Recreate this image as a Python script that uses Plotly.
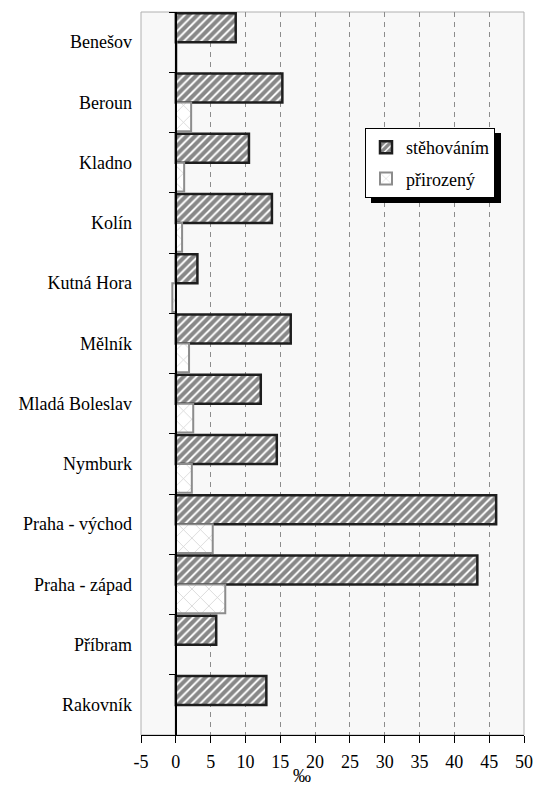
import plotly.graph_objects as go

districts = ["Benešov", "Beroun", "Kladno", "Kolín", "Kutná Hora", "Mělník",
             "Mladá Boleslav", "Nymburk", "Praha - východ", "Praha - západ",
             "Příbram", "Rakovník"]
migration = [8.6, 15.3, 10.5, 13.8, 3.1, 16.5, 12.2, 14.5, 46.0, 43.3, 5.8, 13.0]
natural = [0.1, 2.2, 1.2, 0.9, -0.5, 1.9, 2.5, 2.3, 5.3, 7.1, 0.0, 0.0]
x_ticks = [-5, 0, 5, 10, 15, 20, 25, 30, 35, 40, 45, 50]

FONT = "Liberation Serif, Times New Roman, DejaVu Serif, serif"

fig = go.Figure()
fig.add_trace(go.Bar(
    name="stěhováním", y=districts, x=migration, orientation="h",
    legendgroup="a",
    marker=dict(color="white",
                line=dict(color="#1e1e1e", width=2.5),
                pattern=dict(shape="/", fgcolor="#111111", bgcolor="white",
                             size=6, solidity=0.68, fillmode="overlay")),
))
fig.add_trace(go.Bar(
    name="přirozený", y=districts, x=natural, orientation="h",
    legendgroup="b",
    marker=dict(color="white",
                line=dict(color="#8c8c8c", width=2),
                pattern=dict(shape="x", fgcolor="#a0a0a0", bgcolor="white",
                             size=12, solidity=0.12, fillmode="overlay")),
))
# invisible trace that carries the category axis drawn at x = 0
fig.add_trace(go.Scatter(
    y=districts, x=[0] * len(districts), yaxis="y2", mode="markers",
    marker=dict(opacity=0), showlegend=False, hoverinfo="skip",
))

fig.update_layout(
    width=536, height=789,
    margin=dict(l=141, r=12, t=12, b=54, autoexpand=False),
    paper_bgcolor="white", plot_bgcolor="#f8f8f8",
    font=dict(family=FONT, size=18, color="black"),
    barmode="group", bargap=0.04, bargroupgap=0.0,
    xaxis=dict(range=[-5, 50], tickvals=x_ticks, ticktext=[str(v) for v in x_ticks],
               showgrid=True, gridcolor="#8c8c8c", griddash="5px,5px", gridwidth=1,
               zeroline=False, showline=True, linecolor="black", linewidth=1,
               ticks="outside", ticklen=7, tickcolor="black", tickwidth=1,
               ticklabelstandoff=3, automargin=False,
               tickfont=dict(family=FONT, size=18, color="black")),
    yaxis=dict(type="category", categoryorder="array", categoryarray=districts,
               range=[11.5, -0.5], showgrid=False, zeroline=False,
               showline=False, ticks="", ticklabelstandoff=8, automargin=False,
               tickfont=dict(family=FONT, size=18, color="black")),
    yaxis2=dict(type="category", categoryorder="array", categoryarray=districts,
                range=[11.5, -0.5], overlaying="y", anchor="free",
                position=5 / 55, side="left", showgrid=False, zeroline=False,
                showline=True, linecolor="black", linewidth=2,
                ticks="outside", ticklen=6, tickcolor="black", tickwidth=1,
                tickson="boundaries", showticklabels=False, automargin=False),
    legend=dict(x=(365 - 141) / 383, y=1 - (128 - 12) / 723,
                xanchor="left", yanchor="top",
                bgcolor="white", bordercolor="black", borderwidth=1,
                font=dict(family=FONT, size=18, color="black"), tracegroupgap=5,
                itemwidth=30),
    showlegend=True,
)

# plot area frame (grey) and legend shadow
fig.add_shape(type="rect", xref="paper", yref="paper", x0=0, x1=1, y0=0, y1=1,
              line=dict(color="#b0b0b0", width=1), fillcolor="rgba(0,0,0,0)",
              layer="below")
fig.add_shape(type="rect", xref="paper", yref="paper",
              x0=(371 - 141) / 383, x1=(501 - 141) / 383,
              y0=1 - (203 - 12) / 723, y1=1 - (133 - 12) / 723,
              line=dict(width=0), fillcolor="black", layer="above")

fig.add_annotation(text="‰", xref="paper", yref="paper",
                   x=(302 - 141) / 383, y=-(776 - 735) / 723,
                   xanchor="center", yanchor="middle", showarrow=False,
                   font=dict(family=FONT, size=18, color="black"))

fig.write_html("out.html",
               config={"displayModeBar": False},
               post_script="document.body.style.margin='0px';"
                           "document.body.style.overflow='hidden';")
